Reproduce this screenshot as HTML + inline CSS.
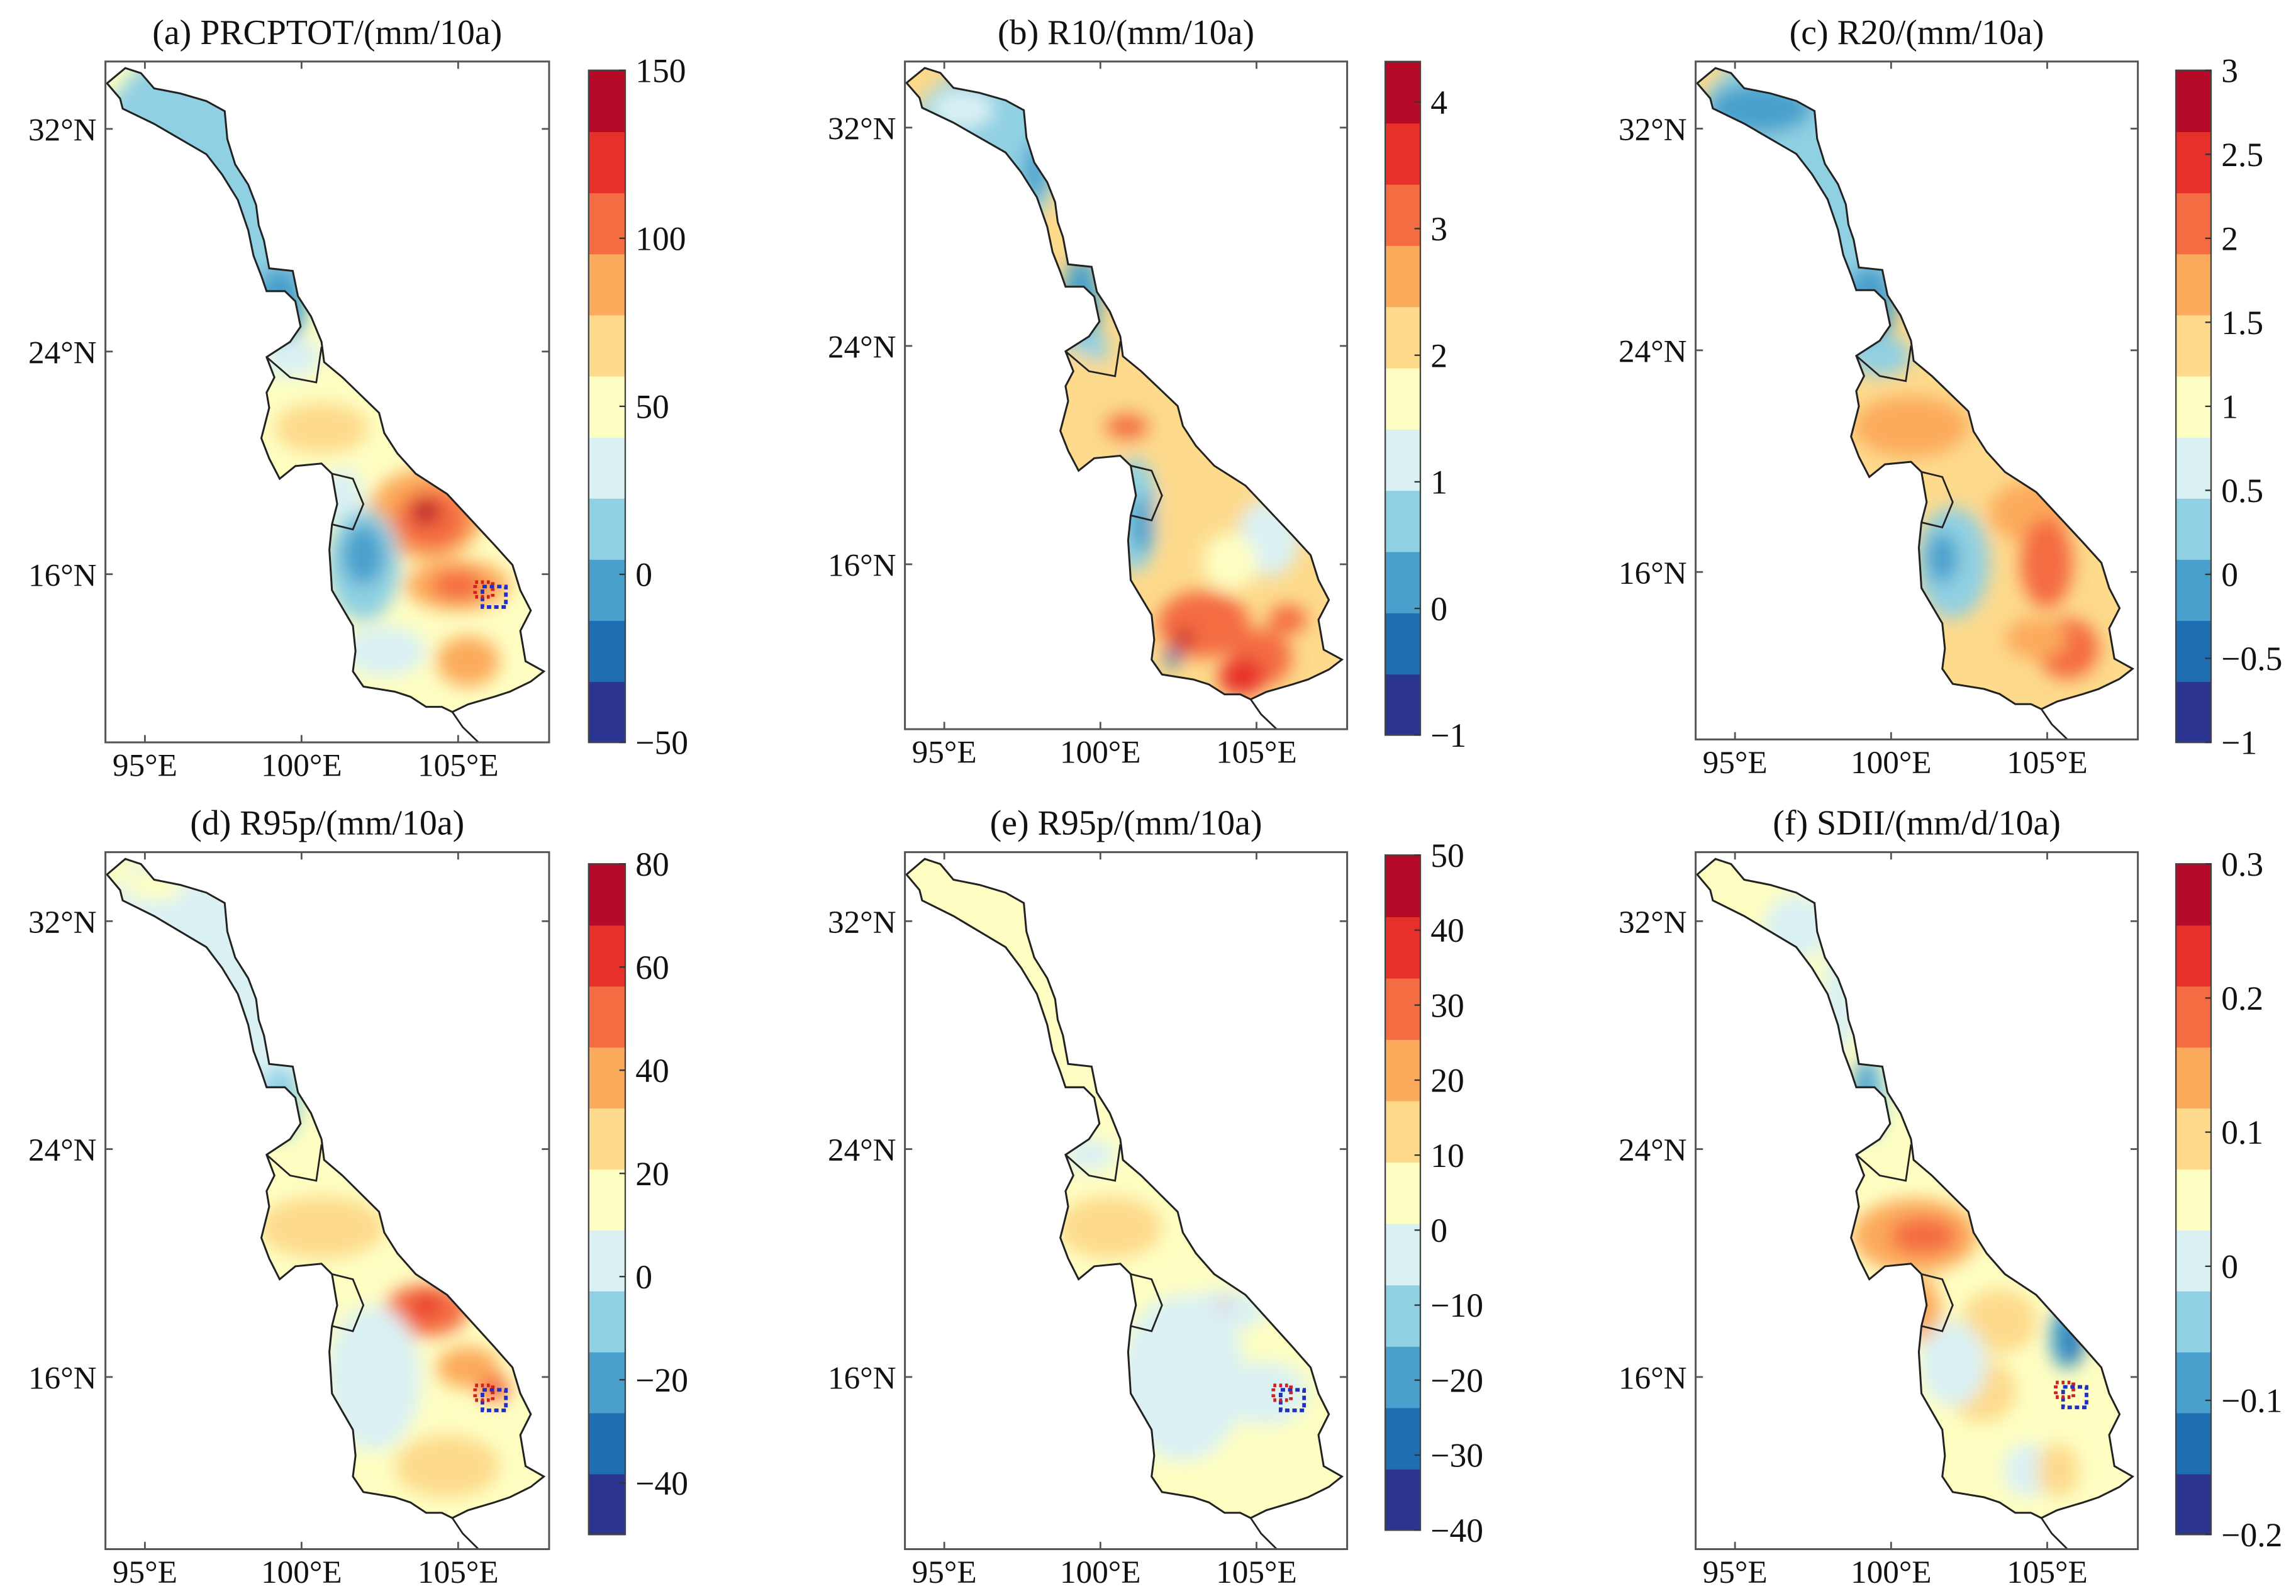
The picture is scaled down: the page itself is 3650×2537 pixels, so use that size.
<!DOCTYPE html>
<html><head><meta charset="utf-8"><style>
html,body{margin:0;padding:0;background:#fff;}
svg{display:block;font-family:"Liberation Serif",serif;}
</style></head><body>
<svg id="fig" width="3650" height="2537" viewBox="0 0 1568 1090" preserveAspectRatio="none" xmlns="http://www.w3.org/2000/svg" font-family="Liberation Serif, serif">
<defs><filter id="blur" x="-20%" y="-20%" width="140%" height="140%"><feGaussianBlur stdDeviation="6"/></filter></defs>
</svg>
<script>
const COLORS=["#2b3591","#1f6db3","#4aa0cc","#90d0e3","#daf1f4","#fefec2","#fdda8c","#fcaa5b","#f46c42","#e7302a","#b50b28"];
const titles=["(a) PRCPTOT/(mm/10a)","(b) R10/(mm/10a)","(c) R20/(mm/10a)","(d) R95p/(mm/10a)","(e) R95p/(mm/10a)","(f) SDII/(mm/d/10a)"];
const cbMin=[-50,-1,-1,-50,-40,-0.2];
const cbMax=[150,4.32,3,80,50,0.3];
const cbTicks=[[150,100,50,0,-50],[4,3,2,1,0,-1],[3,2.5,2,1.5,1,0.5,0,-0.5,-1],[80,60,40,20,0,-20,-40],[50,40,30,20,10,0,-10,-20,-30,-40],[0.3,0.2,0.1,0,-0.1,-0.2]];
const latTicks=[32,24,16];
const lonTicks=[95,100,105];
const baseIdx=[5,6,6,5,5,5];
// blobs [x, y, rx, ry, colourIndex] in reference-crop coordinates (frame given per panel)
const blobsA=[[400,400,230,300,3],[540,620,50,80,2],[560,720,60,40,4],[620,860,90,50,6],[660,1000,40,60,4],[820,1030,110,90,7],[830,1040,70,60,8],[820,1025,25,25,10],[880,1170,100,50,7],[880,1170,50,30,8],[700,1130,70,110,3],[700,1110,40,60,2],[740,1300,80,50,4],[900,1320,60,50,7]];
const blobsB=[[300,250,200,180,3],[250,150,80,40,4],[440,280,30,60,2],[560,560,50,100,2],[580,650,50,40,3],[560,700,40,40,6],[660,780,130,80,6],[680,815,60,30,8],[700,1000,60,120,3],[720,1020,30,60,2],[900,1000,150,100,6],[1050,1050,80,80,4],[950,1100,70,60,5],[880,1230,120,70,8],[1030,1300,80,60,8],[1100,1220,50,30,8],[980,1340,60,40,9],[830,1260,20,20,10],[800,1300,20,20,1]];
const blobsC=[[400,400,230,300,3],[330,230,100,50,2],[540,620,50,80,2],[560,720,60,40,3],[620,860,110,60,7],[850,1030,80,60,7],[880,1130,50,90,8],[920,1300,60,60,8],[860,1280,60,40,7],[700,1130,70,110,3],[680,1120,30,50,2]];
const blobsD=[[400,400,230,300,4],[300,200,60,30,5],[540,620,40,70,3],[620,860,120,60,6],[820,1020,80,50,8],[820,1010,25,20,9],[900,1130,60,40,7],[950,1170,30,25,8],[720,1150,90,140,4],[860,1320,100,60,6]];
const blobsE=[[560,720,50,30,4],[600,860,100,60,6],[820,1020,80,40,4],[740,1150,120,160,4],[900,1180,80,60,4],[820,1010,8,8,9],[880,1330,90,60,5]];
const blobsF=[[380,280,80,60,4],[480,420,40,100,4],[550,600,40,80,3],[540,580,25,50,2],[570,720,60,30,5],[660,860,150,70,7],[680,860,80,35,8],[680,1000,40,60,7],[860,1020,90,60,6],[1020,1050,40,60,2],[1040,1060,20,40,1],[820,1150,80,60,6],[750,1100,80,80,4],[930,1300,60,50,4],[1000,1300,50,50,6]];
const blobs=[blobsA,blobsB,blobsC,blobsD,blobsE,blobsF];
const F1=[207,137,1055,1480],F3=[100,50,1255,1450],F2=[138,140,1190,1448];
const frames=[F1,F3,F1,F1,F1,F2];
const hotspots=[[950,1190],null,null,[950,1190],[950,1190],[1040,1160]];
const panels=[
 {box:[72,42,375,507],cb:[402,48,427,507],ty:22},
 {box:[618,42,920,498],cb:[946,42,970,502],ty:22},
 {box:[1158,42,1460,505],cb:[1486,48,1510,507],ty:22},
 {box:[72,582,375,1058],cb:[402,590,427,1048],ty:562},
 {box:[618,582,920,1058],cb:[946,584,970,1045],ty:562},
 {box:[1158,582,1460,1058],cb:[1486,590,1510,1048],ty:562}];
const outline=[[210,180],[245,150],[275,160],[300,190],[350,200],[400,215],[435,235],[440,290],[455,340],[480,380],[495,420],[500,460],[510,490],[520,545],[565,550],[575,600],[600,640],[620,690],[625,730],[660,760],[700,800],[730,830],[740,870],[765,910],[800,950],[860,990],[905,1040],[950,1090],[985,1130],[1000,1180],[1020,1220],[1000,1260],[1010,1320],[1045,1340],[1020,1360],[980,1380],[950,1390],[900,1405],[870,1420],[850,1410],[820,1410],[790,1390],[760,1380],[700,1370],[680,1340],[685,1300],[680,1250],[640,1180],[635,1100],[640,1050],[650,1010],[640,950],[620,930],[570,935],[540,960],[520,920],[505,880],[520,820],[515,790],[530,760],[515,720],[560,690],[580,660],[570,610],[550,590],[515,590],[505,560],[490,520],[480,470],[460,410],[430,360],[400,320],[350,290],[300,260],[240,230],[235,210]];
const inner1=[[515,720],[560,760],[610,770],[620,700]];
const inner2=[[640,950],[680,960],[700,1010],[680,1060],[640,1050]];
const river=[[870,1420],[890,1450],[920,1480]];
const NS="http://www.w3.org/2000/svg";
const svg=document.getElementById('fig');
function el(t,a,p){const e=document.createElementNS(NS,t);for(const k in a)e.setAttribute(k,a[k]);(p||svg).appendChild(e);return e;}
function fmt(v){return v<0?"\u2212"+Math.abs(v):String(v);}
panels.forEach((P,i)=>{
 const [x0,y0,x1,y1]=P.box,w=x1-x0,h=y1-y0;
 const mk=F=>{const sx=w/(F[2]-F[0]),sy=h/(F[3]-F[1]);return {sx,sy,p:q=>[x0+(q[0]-F[0])*sx,y0+(q[1]-F[1])*sy]};};
 const O=mk(F1),B=mk(frames[i]);
 const g=el('g',{});
 
 
 const t=el('text',{x:(x0+x1)/2,y:P.ty+8,'font-size':24,'text-anchor':'middle','font-family':'Liberation Serif, serif',fill:'#111'},g);t.textContent=titles[i];
 
 
 const pts=outline.map(q=>O.p(q).join(',')).join(' ');
 const cp=el('clipPath',{id:'cp'+i},svg.querySelector('defs'));
 el('polygon',{points:pts},cp);
 const mg=el('g',{'clip-path':'url(#cp'+i+')'},g);
 
 
 el('polygon',{points:pts,fill:COLORS[baseIdx[i]]},mg);
 const bg=el('g',{filter:'url(#blur)'},mg);
 blobs[i].forEach(b=>{
  const c=B.p([b[0],b[1]]);
  const e=el('ellipse',{cx:c[0],cy:c[1],rx:b[2]*B.sx,ry:b[3]*B.sy,fill:COLORS[b[4]]},bg);
  
  
 });
 if(hotspots[i]){
  const c=B.p(hotspots[i]);
  el('rect',{x:c[0]-8,y:c[1]-6,width:16,height:14,fill:'none',stroke:'#2030c0','stroke-width':2.5,'stroke-dasharray':'3,2'},mg);
  el('rect',{x:c[0]-13,y:c[1]-9,width:12,height:10,fill:'none',stroke:'#d02020','stroke-width':2.5,'stroke-dasharray':'2,2'},mg);
 }
 const ol=el('polygon',{points:pts,fill:'none',stroke:'#222','stroke-width':1.3},g);
 
 
 [inner1,inner2,river].forEach(L=>el('polyline',{points:L.map(q=>O.p(q).join(',')).join(' '),fill:'none',stroke:'#222','stroke-width':1.2},g));
 const fr=el('rect',{x:x0,y:y0,width:w,height:h,fill:'none',stroke:'#555','stroke-width':1.3},g);
 
 
 const latY=v=>y0+(0.099+(32-v)/8*0.327)*h;
 const lonX=v=>x0+(0.089+(v-95)/5*0.353)*w;
 latTicks.forEach(v=>{const y=latY(v);
  el('line',{x1:x0,y1:y,x2:x0+5,y2:y,stroke:'#555','stroke-width':1.2},g);
  el('line',{x1:x1,y1:y,x2:x1-5,y2:y,stroke:'#555','stroke-width':1.2},g);
  const tl=el('text',{x:x0-6,y:y+8,'font-size':22,'text-anchor':'end','font-family':'Liberation Serif, serif',fill:'#111'},g);tl.textContent=v+"\u00b0N";
  
  
 });
 lonTicks.forEach(v=>{const x=lonX(v);
  el('line',{x1:x,y1:y1,x2:x,y2:y1-5,stroke:'#555','stroke-width':1.2},g);
  el('line',{x1:x,y1:y0,x2:x,y2:y0+5,stroke:'#555','stroke-width':1.2},g);
  const tl=el('text',{x:x,y:y1+23,'font-size':22,'text-anchor':'middle','font-family':'Liberation Serif, serif',fill:'#111'},g);tl.textContent=v+"\u00b0E";
  
  
 });
 const [cx0,cy0,cx1,cy1]=P.cb,bh=(cy1-cy0)/11;
 const cg=el('g',{},g);
 
 
 for(let k=0;k<11;k++){
  el('rect',{x:cx0,y:cy1-(k+1)*bh,width:cx1-cx0,height:bh+0.5,fill:COLORS[k]},cg);
 }
 el('rect',{x:cx0,y:cy0,width:cx1-cx0,height:cy1-cy0,fill:'none',stroke:'#444','stroke-width':1},cg);
 const vy=v=>cy1-(v-cbMin[i])/(cbMax[i]-cbMin[i])*(cy1-cy0);
 cbTicks[i].forEach(v=>{const y=vy(v);
  el('line',{x1:cx1,y1:y,x2:cx1-4,y2:y,stroke:'#333','stroke-width':1},cg);
  const tl=el('text',{x:cx1+7,y:y+8,'font-size':23,'font-family':'Liberation Serif, serif',fill:'#111'},cg);tl.textContent=fmt(v);
  
  
 });
});
</script>
</body></html>
